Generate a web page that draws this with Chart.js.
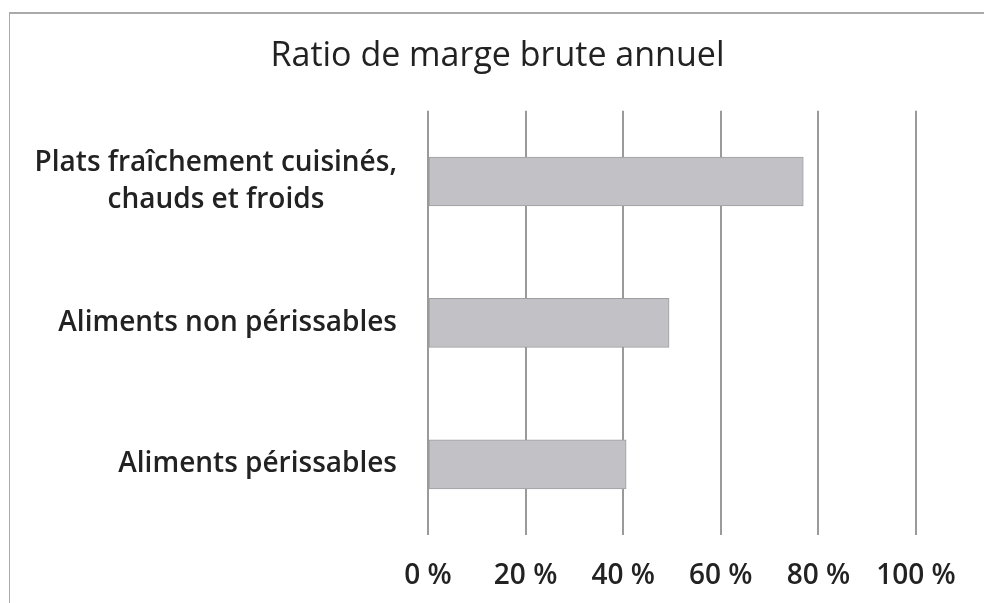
<!DOCTYPE html>
<html>
<head>
    <meta charset="utf-8">
    <title>Ratio de marge brute annuel</title>
    <script src="https://cdn.jsdelivr.net/npm/chart.js"></script>
    <style>
        html, body { margin: 0; padding: 0; background: #fff; }
        #cadre {
            position: absolute; left: 9px; top: 12px; width: 975px; height: 591px;
            border-left: 1px solid #aaa; border-top: 2px solid #aaa;
        }
        #cadre canvas { display: block; }
    </style>
</head>
<body>
    <div id="cadre"><canvas id="marge" width="975" height="591"></canvas></div>

    <script>
        // donnees
        var categories = [
            ['Plats fraîchement cuisinés,', 'chauds et froids'],
            'Aliments non périssables',
            'Aliments périssables'
        ];
        var ratios = [76.9, 49.4, 40.6];
        var graduations = [0, 20, 40, 60, 80, 100];

        var policeCategories = { family: 'Open Sans', size: 28, weight: '600', lineHeight: 1.35 };
        var policeGraduations = { family: 'Open Sans', size: 28, weight: '600' };

        // centre les lignes d'une etiquette sur plusieurs lignes (comme Excel)
        var mesure = document.createElement('canvas').getContext('2d');
        mesure.font = '600 28px "Open Sans"';
        function centrerLignes(lignes) {
            if (!Array.isArray(lignes)) return lignes;
            var largeurs = lignes.map(function(l) { return mesure.measureText(l).width; });
            var maxi = Math.max.apply(null, largeurs);
            var espace = mesure.measureText(' ').width;
            return lignes.map(function(l, i) {
                var n = Math.round((maxi - largeurs[i]) / 2 / espace);
                return l + ' '.repeat(n);
            });
        }

        var ctx = document.getElementById('marge').getContext('2d');

        var chart = new Chart(ctx, {
            type: 'bar',
            data: {
                labels: categories,
                datasets: [{
                    label: 'Ratio de marge brute',
                    data: ratios,
                    backgroundColor: 'rgb(194, 194, 198)',
                    borderColor: 'rgb(158, 158, 162)',
                    borderWidth: 1,
                    borderSkipped: false,
                    barThickness: 49
                }]
            },
            options: {
                indexAxis: 'y',
                responsive: false,
                maintainAspectRatio: false,
                animation: false,
                layout: { padding: 0 },
                plugins: {
                    legend: { display: false },
                    tooltip: { enabled: false },
                    title: {
                        display: true,
                        text: 'Ratio de marge brute annuel',
                        color: '#222',
                        font: { family: 'Open Sans', size: 34, weight: 'normal' },
                        padding: { top: 22, bottom: 34 }
                    }
                },
                scales: {
                    x: {
                        min: 0,
                        max: 100,
                        afterBuildTicks: function(scale) {
                            scale.ticks = graduations.map(function(v) { return { value: v }; });
                        },
                        afterFit: function(scale) { scale.height = 70; },
                        grid: { color: '#9a9a9a', lineWidth: 2, drawTicks: false },
                        border: { display: false },
                        ticks: {
                            color: '#222',
                            font: policeGraduations,
                            padding: 24,
                            maxRotation: 0,
                            callback: function(v) { return v + ' %'; }
                        }
                    },
                    y: {
                        afterFit: function(scale) { scale.width = 418; },
                        grid: { display: false, drawTicks: false },
                        border: { display: false },
                        ticks: {
                            color: '#222',
                            font: policeCategories,
                            padding: 31,
                            crossAlign: 'near',
                            callback: function(v, i) { return centrerLignes(categories[i]); }
                        }
                    },
                    // marge vide a droite, pour garder le titre centre sur toute la largeur
                    droite: {
                        type: 'linear',
                        position: 'right',
                        afterFit: function(scale) { scale.width = 69; },
                        grid: { display: false, drawTicks: false },
                        border: { display: false },
                        ticks: { display: false }
                    }
                }
            }
        });
    </script>
</body>
</html>
